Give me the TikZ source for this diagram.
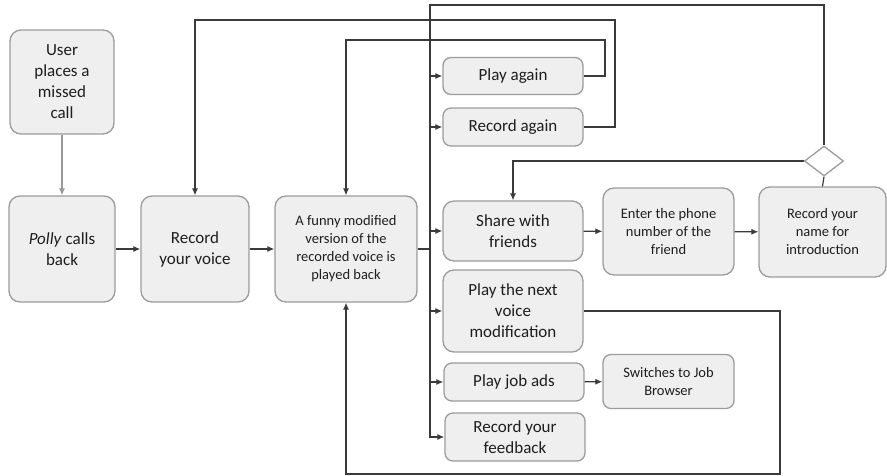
\documentclass[tikz,border=0pt]{standalone}
\usepackage{fontspec}
\setmainfont{Carlito}
\usetikzlibrary{arrows.meta,shapes.geometric}
\definecolor{boxfill}{HTML}{EFEFEF}
\definecolor{boxline}{HTML}{9C9C9C}
\definecolor{wire}{HTML}{3A3A3A}
\definecolor{txt}{HTML}{1E1E1E}
\tikzset{
  box/.style={draw=boxline, fill=boxfill, line width=1.3pt, rounded corners=11pt,
    align=center, text=txt, inner sep=2pt, font=\fontsize{17}{21}\selectfont},
  smallbox/.style={box, font=\fontsize{14.5}{18}\selectfont},
  arr/.style={draw=wire, line width=1.2pt, -{Latex[length=7pt,width=6pt]}},
  wireline/.style={draw=wire, line width=1.2pt},
  dia/.style={diamond, draw=boxline, fill=white, line width=1.3pt, minimum width=39pt, minimum height=30pt, inner sep=0pt}
}
\begin{document}
\begin{tikzpicture}[x=1pt,y=-1pt]
\useasboundingbox (0,0) rectangle (887,475);
% nodes
\node[box, minimum width=104pt, minimum height=104pt] (user) at (62,82) {User\\places a\\missed\\call};
\node[box, minimum width=106pt, minimum height=106pt] (polly) at (62,249) {\textit{Polly} calls\\back};
\node[box, minimum width=108pt, minimum height=106pt] (rec) at (195,249) {Record\\your voice};
\node[smallbox, minimum width=142pt, minimum height=106pt] (funny) at (346,249) {A funny modified\\version of the\\recorded voice is\\played back};
\node[box, rounded corners=8pt, minimum width=140pt, minimum height=37pt] (playag) at (513,76) {Play again};
\node[box, rounded corners=8pt, minimum width=140pt, minimum height=38pt] (recag) at (513,127) {Record again};
\node[box, minimum width=140pt, minimum height=60pt] (share) at (513,231) {Share with\\friends};
\node[smallbox, minimum width=131pt, minimum height=87pt] (enter) at (668.5,231.5) {Enter the phone\\number of the\\friend};
\node[smallbox, minimum width=127pt, minimum height=90pt] (name) at (822.5,232) {Record your\\name for\\introduction};
\node[dia] (dm) at (824,161) {};
\node[box, minimum width=140pt, minimum height=82pt] (next) at (513,311) {Play the next\\voice\\modification};
\node[box, rounded corners=8pt, minimum width=140pt, minimum height=38pt] (jobs) at (514,382) {Play job ads};
\node[smallbox, rounded corners=8pt, minimum width=131pt, minimum height=54pt] (switch) at (668.5,381.5) {Switches to Job\\Browser};
\node[box, rounded corners=8pt, minimum width=140pt, minimum height=48pt] (feed) at (515,437) {Record your\\feedback};
% helper coordinates
\coordinate (top) at (430,5);
\coordinate (pa) at (605,40);
\coordinate (ra) at (615,20);
\coordinate (nv) at (780,474);
% connectors
\draw[arr, draw=gray!80] (user) -- (polly);
\draw[arr] (polly) -- (rec);
\draw[arr] (rec) -- (funny);
\draw[wireline] (funny.east) -- (funny.east -| top);
\draw[arr] (dm.north) |- (top) |- (feed.west);
\draw[arr] (playag.west -| top) -- (playag.west);
\draw[arr] (recag.west -| top) -- (recag.west);
\draw[arr] (share.west -| top) -- (share.west);
\draw[arr] (next.west -| top) -- (next.west);
\draw[arr] (jobs.west -| top) -- (jobs.west);
\draw[arr] (share) -- (enter);
\draw[arr] (enter) -- (name);
\draw[arr] (jobs) -- (switch);
\draw[wireline] (name.north) -- (dm.south);
\draw[arr] (dm.west) -| (share.north);
\draw[arr] (playag.east) -| (pa) -| (funny.north);
\draw[arr] (recag.east) -| (ra) -| (rec.north);
\draw[arr] (next.east) -| (nv) -| (funny.south);
\end{tikzpicture}
\end{document}
